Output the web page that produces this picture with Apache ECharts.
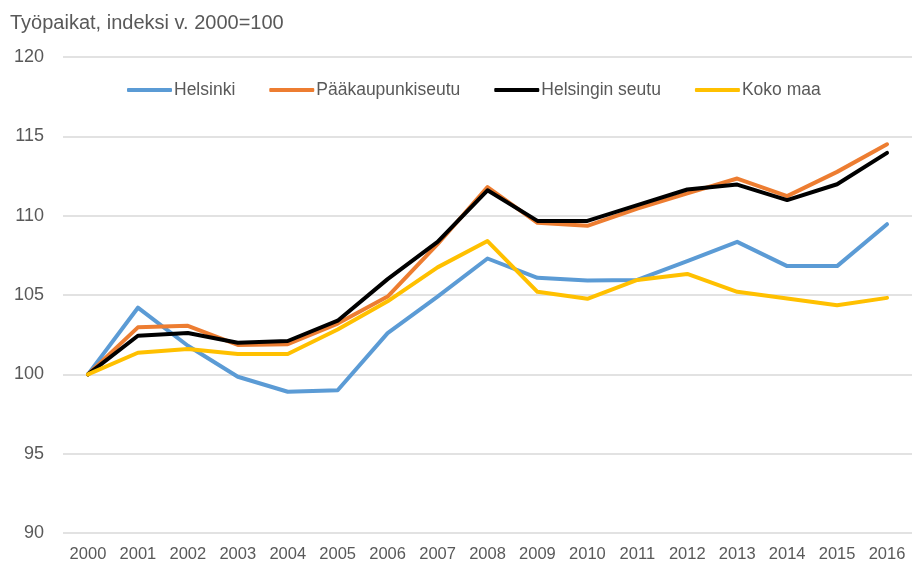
<!DOCTYPE html>
<html>
<head>
<meta charset="utf-8">
<script src="https://cdn.jsdelivr.net/npm/echarts@6/dist/echarts.min.js"></script>
<style>
  html, body { margin: 0; padding: 0; background: #fff; }
  #chart { width: 912px; height: 567px; }
</style>
</head>
<body>
<div id="chart"></div>
<script>
const years = ['2000', '2001', '2002', '2003', '2004', '2005', '2006', '2007', '2008',
  '2009', '2010', '2011', '2012', '2013', '2014', '2015', '2016']

const helsinki = [100, 104.2, 101.8, 99.85, 98.9, 99.0, 102.6, 104.9, 107.3,
  106.08, 105.91, 105.95, 107.13, 108.35, 106.82, 106.82, 109.46]
const paakaupunkiseutu = [100, 102.96, 103.06, 101.85, 101.9, 103.2, 104.9, 108.2, 111.8,
  109.55, 109.36, 110.45, 111.4, 112.34, 111.23, 112.76, 114.5]
const helsinginSeutu = [100, 102.43, 102.6, 101.99, 102.1, 103.38, 106.0, 108.35, 111.6,
  109.67, 109.67, 110.66, 111.65, 111.96, 110.98, 111.98, 113.96]
const kokoMaa = [100, 101.36, 101.6, 101.28, 101.28, 102.83, 104.6, 106.74, 108.4,
  105.2, 104.76, 105.95, 106.33, 105.2, 104.78, 104.36, 104.82]

const seriesNames = ['Helsinki', 'Pääkaupunkiseutu', 'Helsingin seutu', 'Koko maa']
const colors = ['#5B9BD5', '#ED7D31', '#000000', '#FFC000']

const chart = echarts.init(document.getElementById('chart'))

const font = "'Liberation Sans', 'Noto Sans', sans-serif"

chart.setOption({
  animation: false,
  backgroundColor: '#ffffff',
  color: colors,
  title: {
    text: 'Työpaikat, indeksi v. 2000=100',
    left: 5,
    top: 8,
    textStyle: { color: '#595959', fontSize: 20, fontWeight: 'normal', fontFamily: font },
  },
  grid: {
    left: 63,
    right: 0,
    top: 57,
    bottom: 34,
  },
  legend: {
    data: seriesNames,
    top: 81,
    left: 127,
    padding: 0,
    itemWidth: 45,
    itemHeight: 4,
    itemGap: 34,
    icon: 'roundRect',
    textStyle: { color: '#595959', fontSize: 17.5, fontFamily: font, padding: [0, 0, 0, -3] },
  },
  xAxis: {
    type: 'category',
    data: years,
    boundaryGap: true,
    axisLine: { show: false },
    axisTick: { show: false },
    axisLabel: { interval: 0, color: '#595959', fontSize: 16.5, fontFamily: font, margin: 13 },
  },
  yAxis: {
    type: 'value',
    min: 90,
    max: 120,
    interval: 5,
    axisLine: { show: false },
    axisTick: { show: false },
    axisLabel: { color: '#595959', fontSize: 18, fontFamily: font, margin: 19 },
    splitLine: { lineStyle: { color: '#d9d9d9', width: 1.5 } },
  },
  series: [
    { name: seriesNames[0], data: helsinki },
    { name: seriesNames[1], data: paakaupunkiseutu },
    { name: seriesNames[2], data: helsinginSeutu },
    { name: seriesNames[3], data: kokoMaa },
  ].map((s, i) => ({
    ...s,
    type: 'line',
    showSymbol: false,
    symbol: 'none',
    lineStyle: { width: 4, color: colors[i], cap: 'round', join: 'round' },
  })),
})
</script>
</body>
</html>
